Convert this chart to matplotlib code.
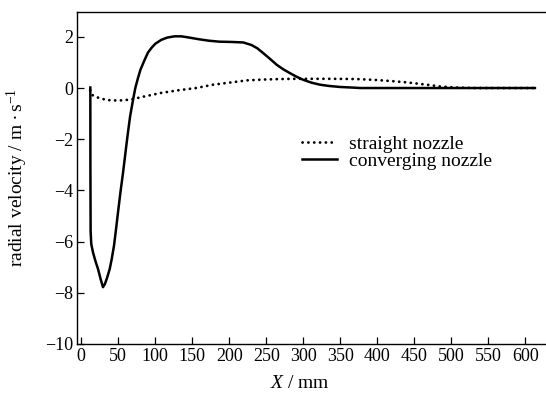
import matplotlib
matplotlib.use("Agg")
import matplotlib.pyplot as plt
from matplotlib.lines import Line2D

plt.rcParams['font.family'] = ['Liberation Serif', 'DejaVu Serif']
plt.rcParams['mathtext.fontset'] = 'custom'
plt.rcParams['mathtext.rm'] = 'Liberation Serif'
plt.rcParams['mathtext.it'] = 'Liberation Serif:italic'

# straight nozzle
x_straight = [12, 13.5, 16, 25, 35, 50, 60, 70, 85, 108, 133, 155, 178, 200, 224, 245, 268,
              290, 313, 340, 372, 395, 420, 440, 455, 467, 485, 505, 530, 570, 613]
y_straight = [-0.08, -0.22, -0.3, -0.4, -0.47, -0.49, -0.47, -0.43, -0.33, -0.19, -0.08, 0.0,
              0.13, 0.21, 0.3, 0.33, 0.35, 0.36, 0.36, 0.36, 0.35, 0.32, 0.27, 0.22, 0.17,
              0.13, 0.06, 0.02, 0.0, 0.0, 0.0]

# converging nozzle
x_conv = [12.2, 12.3, 12.6, 13.5, 15.8, 19, 22.6, 26, 29.3, 32, 35, 38.4, 41, 44.2, 47, 49.6,
          53, 56.4, 60, 63, 66, 70, 73, 76.6, 80, 85.6, 90, 94.6, 100, 108, 116, 126, 135, 144,
          158, 172, 187, 203, 219, 230, 238, 246, 255, 264, 273, 282, 291, 300, 311, 322.6, 335,
          350, 365, 377, 400, 450, 500, 550, 600, 613]
y_conv = [0.02, -3.0, -5.6, -6.1, -6.42, -6.75, -7.07, -7.45, -7.78, -7.65, -7.4, -7.07, -6.7,
          -6.16, -5.5, -4.86, -4.05, -3.31, -2.45, -1.75, -1.1, -0.45, 0.0, 0.39, 0.72, 1.1, 1.38,
          1.56, 1.73, 1.88, 1.97, 2.02, 2.02, 1.98, 1.91, 1.85, 1.81, 1.8, 1.78, 1.68, 1.55, 1.36,
          1.14, 0.91, 0.73, 0.58, 0.44, 0.32, 0.21, 0.13, 0.08, 0.04, 0.02, 0.0, 0.0, 0.0, 0.0,
          0.0, 0.0, 0.0]

x_ticks = [0, 50, 100, 150, 200, 250, 300, 350, 400, 450, 500, 550, 600]
y_ticks = [2, 0, -2, -4, -6, -8, -10]

fig = plt.figure(figsize=(5.46, 3.96), dpi=100)
ax = fig.add_axes([77.3 / 546, 1 - 344 / 396, 1 - 77.3 / 546, (344 - 12) / 396])

dot_style = dict(color='black', lw=2.0, linestyle=(0, (0.05, 2.05)), dash_capstyle='round')
ax.plot(x_straight, y_straight, **dot_style)
ax.plot(x_conv, y_conv, color='black', lw=1.8, solid_joinstyle='round')

ax.set_xlim(-5.4, 628)
ax.set_ylim(-10, 2.97)
ax.set_xticks(x_ticks)
ax.set_yticks(y_ticks)
ax.set_yticklabels([str(v).replace('-', '\u2212') for v in y_ticks])
ax.tick_params(direction='in', length=5, width=0.9, labelsize=13, pad=3,
               top=False, right=False)
ax.spines['right'].set_visible(False)
for s in ['left', 'bottom', 'top']:
    ax.spines[s].set_linewidth(1.0)

fig.text(300 / 546, 1 - 383 / 396, r'$X$ / mm', ha='center', va='center', fontsize=14)
fig.text(17 / 546, 1 - 178 / 396, r'radial velocity / m$\,\bullet$s$^{-1}$', rotation=90,
         ha='center', va='center', fontsize=14)

handles = [Line2D([], [], **dot_style), Line2D([], [], color='black', lw=1.8)]
leg = ax.legend(handles, ['straight nozzle', 'converging nozzle'], loc='upper left',
                bbox_to_anchor=((302 - 77.3) / (546 - 77.3), (344 - 135) / 332),
                frameon=False, fontsize=14, handlelength=1.8, handletextpad=0.6,
                labelspacing=0.0, borderaxespad=0, borderpad=0)

fig.savefig('out.png', dpi=100, facecolor='white')
